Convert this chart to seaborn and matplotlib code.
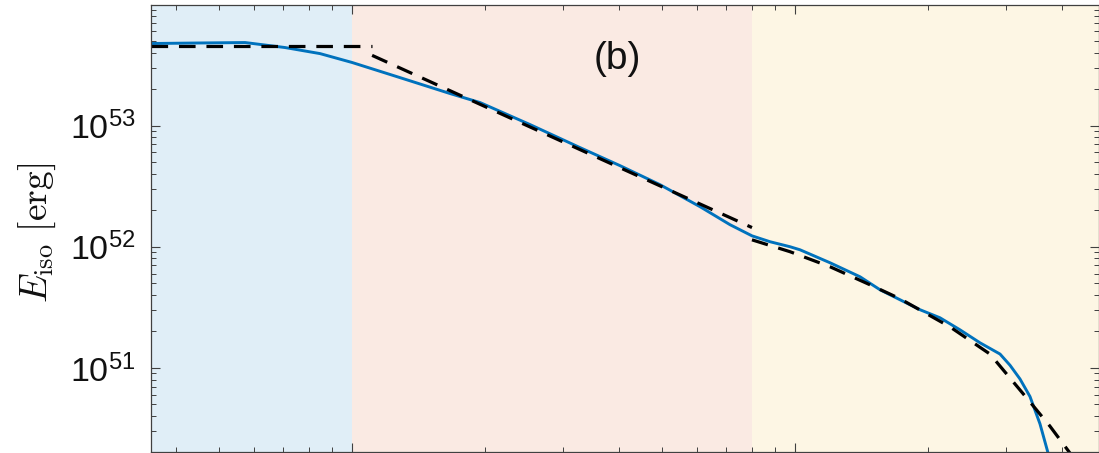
import numpy as np
import pandas as pd
import matplotlib
matplotlib.use("Agg")
import matplotlib.pyplot as plt
import seaborn as sns
from matplotlib.ticker import LogLocator, NullFormatter, LogFormatterMathtext

# Isotropic-equivalent energy curve
t_model = [0.3517, 0.4538, 0.5734, 0.7060, 0.8468, 1.0, 1.283, 1.664, 1.945, 2.522,
           3.271, 4.027, 4.959, 6.105, 7.134, 7.996, 8.780, 9.743, 10.26, 11.99,
           14.02, 15.56, 17.26, 19.15, 21.25, 23.58, 26.16, 29.03, 30.58, 32.20,
           33.92, 35.73, 37.25, 38.03]
e_model = [4.76e53, 4.81e53, 4.85e53, 4.41e53, 3.93e53, 3.32e53, 2.49e53, 1.84e53, 1.55e53, 1.02e53,
           6.58e52, 4.67e52, 3.25e52, 2.14e52, 1.52e52, 1.23e52, 1.10e52, 1.00e52, 9.44e51, 7.38e51,
           5.65e51, 4.41e51, 3.65e51, 3.02e51, 2.59e51, 2.06e51, 1.61e51, 1.30e51, 1.05e51, 8.10e50,
           5.80e50, 3.45e50, 1.99e50, 1.44e50]

# Piecewise fits, one per phase
fit1_t = [0.3517, 1.110]
fit1_e = [4.50e53, 4.50e53]
fit2_t = [1.110, 7.996]
fit2_e = [3.80e53, 1.44e52]
fit3_t = [7.996, 9.743, 11.99, 14.77, 17.26, 22.38, 27.55, 33.40, 37.63, 42.87]
fit3_e = [1.14e52, 9.10e51, 6.84e51, 4.85e51, 3.72e51, 2.18e51, 1.30e51, 5.60e50, 3.30e50, 1.74e50]

# Phase boundaries and shading
phase_edges = [0.3517, 1.0, 8.0, 48.56]
phase_colors = ["#e0eef7", "#faeae3", "#fdf6e4"]

sns.set_style("ticks")
plt.rcParams.update({
    "font.family": ["Liberation Sans", "DejaVu Sans"],
    "mathtext.fontset": "custom",
    "mathtext.rm": "Liberation Sans",
    "mathtext.it": "Liberation Sans:italic",
    "mathtext.bf": "Liberation Sans:bold",
    "axes.edgecolor": "#404040",
    "axes.linewidth": 0.9,
    "xtick.color": "#404040",
    "ytick.color": "#404040",
    "xtick.direction": "in",
    "ytick.direction": "in",
    "xtick.top": True,
    "ytick.right": True,
})

fig = plt.figure(figsize=(10.99, 4.53), dpi=100)
ax = fig.add_axes([151 / 1099, 1 / 453, 948 / 1099, 447 / 453])
ax.set_xscale("log")
ax.set_yscale("log")

for (x0, x1), c in zip(zip(phase_edges[:-1], phase_edges[1:]), phase_colors):
    ax.axvspan(x0, x1, color=c, lw=0, zorder=0)

sns.lineplot(x=t_model, y=e_model, ax=ax, color="#0072BD", lw=2.1,
             sort=False, estimator=None, zorder=3)
for ft, fe in [(fit1_t, fit1_e), (fit2_t, fit2_e), (fit3_t, fit3_e)]:
    sns.lineplot(x=ft, y=fe, ax=ax, color="black", lw=2.3, sort=False,
                 estimator=None, linestyle=(0, (5.2, 3.4)), zorder=4)

ax.set_xlim(phase_edges[0], phase_edges[-1])
ax.set_ylim(2.02e50, 9.9e53)

ax.yaxis.set_major_locator(LogLocator(base=10, numticks=10))
ax.yaxis.set_minor_locator(LogLocator(base=10, subs=np.arange(2, 10), numticks=20))
ax.yaxis.set_major_formatter(LogFormatterMathtext())
ax.yaxis.set_minor_formatter(NullFormatter())
ax.xaxis.set_major_locator(LogLocator(base=10, numticks=10))
ax.xaxis.set_minor_locator(LogLocator(base=10, subs=np.arange(2, 10), numticks=20))
ax.xaxis.set_major_formatter(NullFormatter())
ax.xaxis.set_minor_formatter(NullFormatter())

ax.tick_params(which="major", length=6.5, width=0.8, labelsize=24.5, pad=11)
ax.tick_params(which="minor", length=3.3, width=0.7)
ax.tick_params(axis="y", labelcolor="#111111")

ax.set_ylabel(r"$E_{\rm iso}\ [\rm erg]$", fontsize=27, color="#111111",
              math_fontfamily="cm")
ax.yaxis.set_label_coords(-0.098, 0.49)

ax.text(0.4916, 0.879, "(b)", transform=ax.transAxes, fontsize=28,
        ha="center", va="center", color="#111111")

for s in ax.spines.values():
    s.set_zorder(5)

fig.savefig("out.png", dpi=100)
